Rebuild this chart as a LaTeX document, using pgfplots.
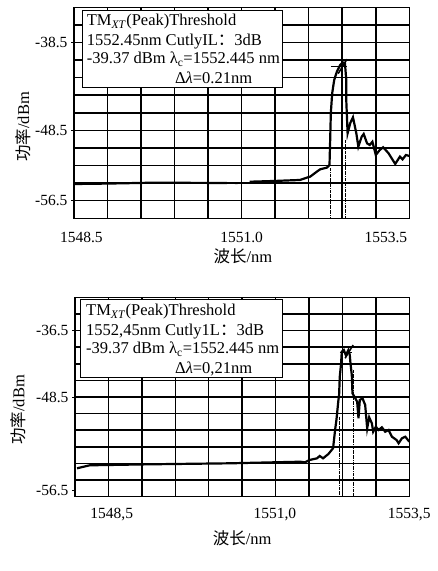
\documentclass[border=0pt]{standalone}
\usepackage{fontspec}
\setmainfont{Liberation Serif}
\newfontfamily\cjk{Noto Sans CJK SC}
\usepackage{pgfplots}
\pgfplotsset{compat=1.18}

% common look of the two OSA screens
\pgfplotsset{osa/.style={
    scale only axis,
    xmin=1548.5, xmax=1553.5,
    ymin=-58.5, ymax=-34.5,
    axis line style={line width=1.5pt},
    minor xtick={1549,1549.5,1550,1550.5,1551,1551.5,1552,1552.5,1553},
    minor ytick={-56.5,-54.5,-52.5,-50.5,-48.5,-46.5,-44.5,-42.5,-40.5,-38.5,-36.5},
    xminorgrids=true, yminorgrids=true,
    minor grid style={black, line width=1.5pt},
    minor tick length=0pt,
    xtick style={draw=none},
    ytick style={black, line width=0.9pt},
    tick align=outside, tick pos=left,
    major tick length=3pt,
    tick label style={font=\fontsize{15.5}{16}\selectfont},
    label style={font=\fontsize{16.5}{18}\selectfont},
    xlabel={{\cjk 波长}/nm},
    ylabel={{\cjk 功率}/dBm},
    unbounded coords=jump,
}}
\newcommand{\boxfont}{\fontsize{16.5}{18}\selectfont}

\begin{document}
\begin{tikzpicture}
\useasboundingbox (0,0) rectangle (438pt,571pt);

% ---------------- (a)
\begin{axis}[osa,
    at={(74pt,352.7pt)}, anchor=south west,
    width=335.3pt, height=211pt,
    xtick={1548.61,1551.0,1553.15},
    xticklabels={1548.5,1551.0,1553.5},
    xticklabel style={anchor=base, yshift=-21pt},
    ytick={-56.5,-48.5,-38.5},
    yticklabels={-56.5,-48.5,-38.5},
    xlabel style={at={(axis description cs:0.504,-0.179)}, anchor=center},
    ylabel style={at={(axis description cs:-0.153,0.433)}, anchor=center},
]
\addplot[black, line width=2.2pt] coordinates {
(1548.50,-54.60)(1549.00,-54.55)(1549.68,-54.45)(1550.30,-54.47)(1550.78,-54.48)
(1550.85,nan)
(1550.90,-54.50)(1550.94,-54.50)
(1551.00,nan)
(1551.12,-54.34)(1551.50,-54.25)(1551.87,-54.14)(1551.97,-53.88)(1552.02,-53.77)
(1552.12,-53.20)(1552.17,-52.93)(1552.27,-52.74)(1552.31,-52.44)(1552.32,-49.59)
(1552.33,-46.52)(1552.35,-44.28)(1552.38,-42.77)(1552.42,-41.82)(1552.47,-41.06)
(1552.51,-40.77)(1552.54,-40.83)(1552.56,-42.77)(1552.56,-45.04)(1552.57,-46.94)
(1552.58,-48.83)(1552.62,-47.66)(1552.66,-47.01)(1552.71,-48.83)(1552.74,-50.35)
(1552.79,-49.22)(1552.82,-48.91)(1552.87,-49.97)(1552.91,-50.16)(1552.95,-49.79)
(1553.00,-51.30)(1553.06,-50.73)(1553.11,-50.42)(1553.19,-51.10)(1553.29,-52.32)
(1553.36,-51.49)(1553.40,-51.79)(1553.45,-51.30)(1553.50,-51.41)
};
% peak marker
\addplot[black, line width=1.5pt] coordinates {(1552.33,-41.25)(1552.57,-41.25)};
\addplot[black, line width=1.5pt] coordinates {(1552.50,-42.10)(1552.50,-40.60)};
\addplot[black, line width=1.5pt] coordinates {(1552.44,-42.04)(1552.57,-40.41)};
% 3 dB edges
\addplot[black, densely dashdotted, line width=0.9pt] coordinates {(1552.33,-52.81)(1552.33,-58.5)};
\addplot[black, densely dashdotted, line width=0.9pt] coordinates {(1552.55,-49.59)(1552.55,-58.5)};
% readout box
\draw[line width=1pt, fill=white] (rel axis cs:0.026,0.621) rectangle (rel axis cs:0.6224,0.987);
\node[anchor=west, inner sep=0pt, font=\boxfont] at (rel axis cs:0.0379,0.9318) {TM\textsubscript{\textit{XT}}(Peak)Threshold};
\node[anchor=west, inner sep=0pt, font=\boxfont] at (rel axis cs:0.0379,0.8370) {1552.45nm CutlyIL{\cjk ：}3dB};
\node[anchor=west, inner sep=0pt, font=\boxfont] at (rel axis cs:0.0379,0.7536) {-39.37 dBm λ\textsubscript{c}=1552.445 nm};
\node[anchor=west, inner sep=0pt, font=\boxfont] at (rel axis cs:0.301,0.6635) {Δ\textit{λ}=0.21nm};
\node[anchor=center, font=\fontsize{16.5}{18}\selectfont] at (axis description cs:0.497,-0.283) {(a)};
\end{axis}

% ---------------- (b)
\begin{axis}[osa,
    at={(75pt,74.3pt)}, anchor=south west,
    width=334.3pt, height=199.4pt,
    xtick={1549.05,1551.49,1553.5},
    xticklabels={{1548,5},{1551,0},{1553,5}},
    xticklabel style={anchor=base, yshift=-19pt},
    ytick={-57.7,-46.5,-38.5},
    yticklabels={-56.5,-48.5,-36.5},
    xlabel style={at={(axis description cs:0.5,-0.209)}, anchor=center},
    ylabel style={at={(axis description cs:-0.17,0.435)}, anchor=center},
]
\addplot[black, line width=2.2pt] coordinates {
(1548.53,-55.08)(1548.72,-54.72)(1549.62,-54.60)(1550.82,-54.48)(1551.87,-54.29)
(1551.94,-54.36)(1552.01,-54.08)(1552.12,-53.88)(1552.16,-53.60)(1552.21,-53.88)
(1552.29,-53.36)(1552.36,-52.67)(1552.39,-50.47)(1552.41,-49.27)(1552.44,-46.86)
(1552.45,-46.26)(1552.46,-44.06)(1552.48,-42.44)(1552.49,-41.05)(1552.52,-40.84)
(1552.55,-41.45)(1552.59,-40.84)(1552.61,-41.45)(1552.62,-42.44)(1552.64,-43.85)
(1552.65,-46.06)(1552.69,-46.62)(1552.72,-47.07)(1552.74,-49.06)(1552.76,-46.86)
(1552.80,-46.66)(1552.84,-47.46)(1552.87,-50.27)(1552.90,-48.94)(1552.94,-49.67)
(1552.96,-50.68)(1553.00,-50.08)(1553.04,-50.47)(1553.09,-50.15)(1553.14,-50.68)
(1553.19,-50.47)(1553.24,-51.28)(1553.31,-51.68)(1553.34,-52.07)(1553.39,-51.47)
(1553.44,-51.28)(1553.50,-51.88)
};
\addplot[black, line width=1.5pt] coordinates {(1552.46,-41.17)(1552.64,-41.17)};
\addplot[black, line width=1.5pt] coordinates {(1552.54,-41.84)(1552.66,-40.24)};
\addplot[black, densely dashdotted, line width=0.9pt] coordinates {(1552.45,-48.87)(1552.45,-58.5)};
\addplot[black, densely dashdotted, line width=0.9pt] coordinates {(1552.66,-43.25)(1552.66,-58.5)};
\draw[line width=1pt, fill=white] (rel axis cs:0.015,0.5988) rectangle (rel axis cs:0.6213,0.9865);
\node[anchor=west, inner sep=0pt, font=\boxfont] at (rel axis cs:0.0329,0.9278) {TM\textsubscript{\textit{XT}}(Peak)Threshold};
\node[anchor=west, inner sep=0pt, font=\boxfont] at (rel axis cs:0.0329,0.8275) {1552,45nm Cutly1L{\cjk ：}3dB};
\node[anchor=west, inner sep=0pt, font=\boxfont] at (rel axis cs:0.0329,0.7392) {-39.37 dBm λ\textsubscript{c}=1552.445 nm};
\node[anchor=west, inner sep=0pt, font=\boxfont] at (rel axis cs:0.299,0.6404) {Δ\textit{λ}=0,21nm};
\node[anchor=center, font=\fontsize{16.5}{18}\selectfont] at (axis description cs:0.49,-0.334) {(b)};
\end{axis}
\end{tikzpicture}
\end{document}
